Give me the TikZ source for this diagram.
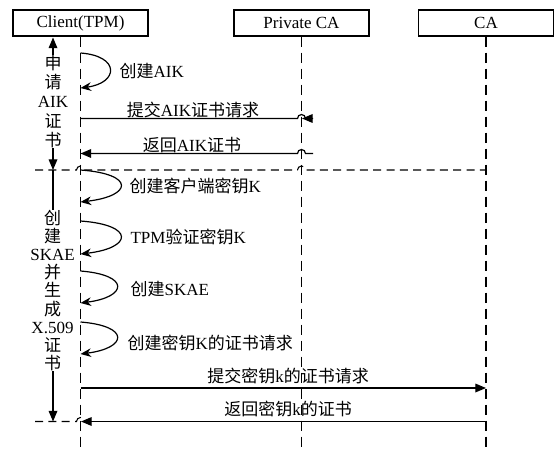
\documentclass[tikz,border=0pt]{standalone}
\usepackage{fontspec}
\setmainfont{Liberation Serif}
\newfontfamily\cjk{Noto Sans CJK SC}
\usetikzlibrary{arrows.meta}
\begin{document}
\begin{tikzpicture}[x=0.75pt,y=-0.75pt,
  every node/.style={font=\fontsize{12.75pt}{15pt}\selectfont, inner sep=1pt},
  actor/.style={draw, line width=1.1pt, minimum width=101pt, minimum height=19.5pt, inner sep=0pt},
  life/.style={line width=0.8pt, dash pattern=on 8pt off 4pt},
  sep/.style={line width=0.8pt, dash pattern=on 6pt off 4pt},
  msg/.style={line width=0.9pt},
  tip/.style={-{Triangle[length=8pt,width=6.5pt]}},
  dtip/.style={{Triangle[length=8pt,width=6.5pt]}-{Triangle[length=8pt,width=6.5pt]}},
  selfloop/.style={line width=0.9pt, -{Stealth[length=8pt,width=6.5pt]}},
  vlab/.style={fill=white, align=center, inner sep=0pt},
  llab/.style={anchor=west}
]
\useasboundingbox (0,0) rectangle (555,452);
% actors
\node[actor] (client) at (80.5,23) {Client(TPM)};
\node[actor] (pca) at (301.5,23) {Private CA};
\node[actor] (ca) at (486,23) {CA};
\coordinate (bot) at (0,452);
\draw[life] (client.south) -- (client.south |- bot);
\draw[life] (pca.south) -- (pca.south |- bot);
\draw[life] (ca.south) -- (ca.south |- bot);

% phase arrows
\coordinate (a1t) at (53,37.5);
\coordinate (a1b) at (53,170);
\coordinate (a2b) at (53,421.5);
\draw[msg,dtip] (a1t) -- (a1b);
\draw[msg,tip] (a1b) -- (a2b);
\node[vlab, font=\fontsize{12.75pt}{14.4pt}\selectfont] (ph1) at (53,101.5)
  {{\cjk 申}\\{\cjk 请}\\AIK\\{\cjk 证}\\{\cjk 书}};
\node[vlab, font=\fontsize{12.75pt}{13.6pt}\selectfont] (ph2) at (52.5,290.5)
  {{\cjk 创}\\{\cjk 建}\\SKAE\\{\cjk 并}\\{\cjk 生}\\{\cjk 成}\\X.509\\{\cjk 证}\\{\cjk 书}};

% separators
\coordinate (s1l) at (35,170);
\coordinate (s1r) at (ca.south |- s1l);
\draw[sep] (s1l) -- (76.5,170) arc[start angle=180,end angle=0,radius=3pt]
  -- (297.5,170) arc[start angle=180,end angle=0,radius=3pt] -- (s1r);
\coordinate (s2l) at (35,421.5);
\draw[sep] (s2l) -- (76.5,421.5) arc[start angle=180,end angle=0,radius=3pt];

% self loops
\coordinate (l1s) at (80.5,53);   \coordinate (l1e) at (80.5,88);
\coordinate (l2s) at (80.5,170);  \coordinate (l2e) at (80.5,202);
\coordinate (l3s) at (80.5,221);  \coordinate (l3e) at (80.5,254);
\coordinate (l4s) at (80.5,271);  \coordinate (l4e) at (80.5,303);
\coordinate (l5s) at (80.5,322);  \coordinate (l5e) at (80.5,354);
\draw[selfloop] (l1s) .. controls +(40,3) and +(38,-5) .. (l1e);
\draw[selfloop] (l2s) .. controls +(55,4) and +(52,-6) .. (l2e);
\draw[selfloop] (l3s) .. controls +(55,4) and +(52,-6) .. (l3e);
\draw[selfloop] (l4s) .. controls +(50,4) and +(47,-6) .. (l4e);
\draw[selfloop] (l5s) .. controls +(50,4) and +(47,-6) .. (l5e);
\node[llab] (t1) at (118,71) {{\cjk 创建}AIK};
\node[llab] (t2) at (128,186) {{\cjk 创建客户端密钥}K};
\node[llab] (t3) at (129,237) {TPM{\cjk 验证密钥}K};
\node[llab] (t4) at (129,289) {{\cjk 创建}SKAE};
\node[llab] (t5) at (126,343) {{\cjk 创建密钥}K{\cjk 的证书请求}};

% messages to Private CA
\coordinate (m1s) at (80.5,118.5);
\coordinate (m1e) at (313,118.5);
\coordinate (m1tip) at (302,118.5);
\draw[msg] (m1s) -- (297.5,118.5) arc[start angle=180,end angle=0,radius=3pt] -- (m1e);
\draw[msg,tip] (m1e) -- (m1tip);
\node (t6) at (193,110) {{\cjk 提交}AIK{\cjk 证书请求}};

\coordinate (m2s) at (313,153.5);
\coordinate (m2e) at (80.5,153.5);
\draw[msg,tip] (m2s) -- (305.5,153.5) arc[start angle=0,end angle=180,radius=3pt] -- (m2e);
\node (t7) at (192,145) {{\cjk 返回}AIK{\cjk 证书}};

% messages to CA
\coordinate (m3s) at (80.5,388);
\coordinate (m3e) at (ca.south |- m3s);
\draw[msg,tip] (m3s) -- (m3e);
\node (t8) at (288,376) {{\cjk 提交密钥}k{\cjk 的证书请求}};

\coordinate (m4s) at (ca.south |- s2l);
\coordinate (m4e) at (81,421.5);
\draw[msg,tip] (m4s) -- (m4e);
\node (t9) at (288,409) {{\cjk 返回密钥}k{\cjk 的证书}};
\end{tikzpicture}
\end{document}
